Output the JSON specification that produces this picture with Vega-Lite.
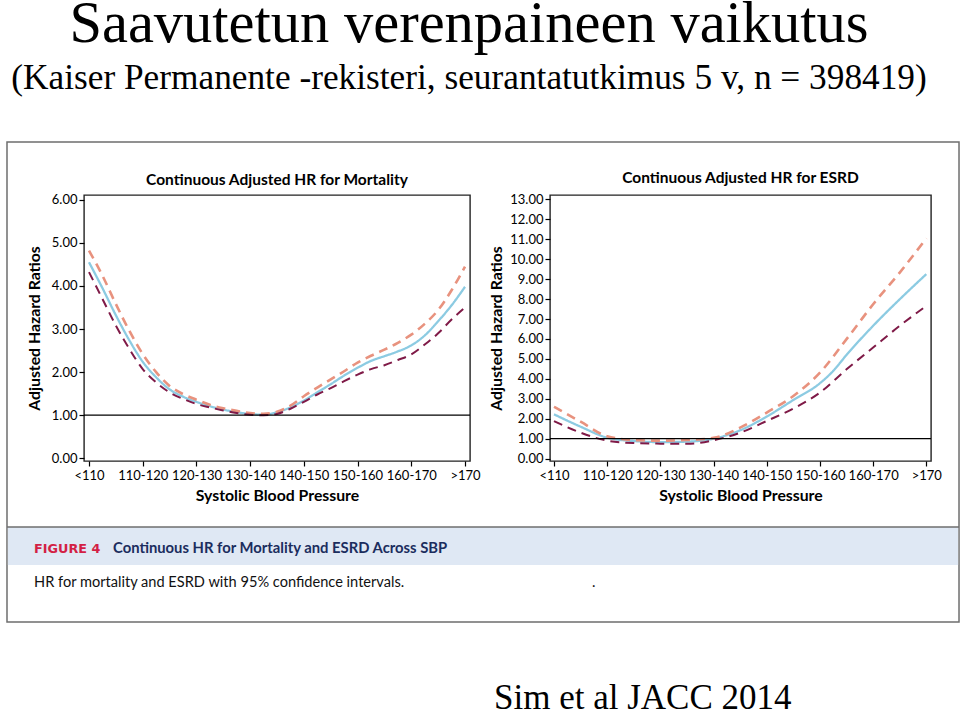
{
  "$schema": "https://vega.github.io/schema/vega-lite/v6.json",
  "background": "white",
  "padding": {"left": 5, "top": -6, "right": 0, "bottom": 0},
  "datasets": {
    "mortality": [
      {"sbp":105,"series":"HR","hr":4.55},{"sbp":107.5,"series":"HR","hr":3.95},{"sbp":110,"series":"HR","hr":3.32},{"sbp":112.5,"series":"HR","hr":2.74},{"sbp":115,"series":"HR","hr":2.24},{"sbp":117.5,"series":"HR","hr":1.88},{"sbp":120,"series":"HR","hr":1.6},{"sbp":122.5,"series":"HR","hr":1.43},{"sbp":125,"series":"HR","hr":1.31},{"sbp":127.5,"series":"HR","hr":1.21},{"sbp":130,"series":"HR","hr":1.13},{"sbp":132.5,"series":"HR","hr":1.07},{"sbp":135,"series":"HR","hr":1.03},{"sbp":137.5,"series":"HR","hr":1.01},{"sbp":140,"series":"HR","hr":1.07},{"sbp":142.5,"series":"HR","hr":1.18},{"sbp":145,"series":"HR","hr":1.34},{"sbp":147.5,"series":"HR","hr":1.53},{"sbp":150,"series":"HR","hr":1.72},{"sbp":152.5,"series":"HR","hr":1.92},{"sbp":155,"series":"HR","hr":2.1},{"sbp":157.5,"series":"HR","hr":2.26},{"sbp":160,"series":"HR","hr":2.37},{"sbp":162.5,"series":"HR","hr":2.48},{"sbp":165,"series":"HR","hr":2.62},{"sbp":167.5,"series":"HR","hr":2.85},{"sbp":170,"series":"HR","hr":3.18},{"sbp":172.5,"series":"HR","hr":3.55},{"sbp":175,"series":"HR","hr":3.98},
      {"sbp":105,"series":"Upper 95% CI","hr":4.82},{"sbp":107.5,"series":"Upper 95% CI","hr":4.24},{"sbp":110,"series":"Upper 95% CI","hr":3.58},{"sbp":112.5,"series":"Upper 95% CI","hr":2.96},{"sbp":115,"series":"Upper 95% CI","hr":2.42},{"sbp":117.5,"series":"Upper 95% CI","hr":2.0},{"sbp":120,"series":"Upper 95% CI","hr":1.68},{"sbp":122.5,"series":"Upper 95% CI","hr":1.49},{"sbp":125,"series":"Upper 95% CI","hr":1.36},{"sbp":127.5,"series":"Upper 95% CI","hr":1.24},{"sbp":130,"series":"Upper 95% CI","hr":1.16},{"sbp":132.5,"series":"Upper 95% CI","hr":1.1},{"sbp":135,"series":"Upper 95% CI","hr":1.05},{"sbp":137.5,"series":"Upper 95% CI","hr":1.03},{"sbp":140,"series":"Upper 95% CI","hr":1.08},{"sbp":142.5,"series":"Upper 95% CI","hr":1.22},{"sbp":145,"series":"Upper 95% CI","hr":1.44},{"sbp":147.5,"series":"Upper 95% CI","hr":1.64},{"sbp":150,"series":"Upper 95% CI","hr":1.83},{"sbp":152.5,"series":"Upper 95% CI","hr":2.02},{"sbp":155,"series":"Upper 95% CI","hr":2.22},{"sbp":157.5,"series":"Upper 95% CI","hr":2.38},{"sbp":160,"series":"Upper 95% CI","hr":2.52},{"sbp":162.5,"series":"Upper 95% CI","hr":2.68},{"sbp":165,"series":"Upper 95% CI","hr":2.87},{"sbp":167.5,"series":"Upper 95% CI","hr":3.12},{"sbp":170,"series":"Upper 95% CI","hr":3.44},{"sbp":172.5,"series":"Upper 95% CI","hr":3.9},{"sbp":175,"series":"Upper 95% CI","hr":4.45},
      {"sbp":105,"series":"Lower 95% CI","hr":4.32},{"sbp":107.5,"series":"Lower 95% CI","hr":3.7},{"sbp":110,"series":"Lower 95% CI","hr":3.08},{"sbp":112.5,"series":"Lower 95% CI","hr":2.54},{"sbp":115,"series":"Lower 95% CI","hr":2.07},{"sbp":117.5,"series":"Lower 95% CI","hr":1.76},{"sbp":120,"series":"Lower 95% CI","hr":1.53},{"sbp":122.5,"series":"Lower 95% CI","hr":1.38},{"sbp":125,"series":"Lower 95% CI","hr":1.26},{"sbp":127.5,"series":"Lower 95% CI","hr":1.18},{"sbp":130,"series":"Lower 95% CI","hr":1.11},{"sbp":132.5,"series":"Lower 95% CI","hr":1.05},{"sbp":135,"series":"Lower 95% CI","hr":1.01},{"sbp":137.5,"series":"Lower 95% CI","hr":1.0},{"sbp":140,"series":"Lower 95% CI","hr":1.03},{"sbp":142.5,"series":"Lower 95% CI","hr":1.15},{"sbp":145,"series":"Lower 95% CI","hr":1.31},{"sbp":147.5,"series":"Lower 95% CI","hr":1.48},{"sbp":150,"series":"Lower 95% CI","hr":1.63},{"sbp":152.5,"series":"Lower 95% CI","hr":1.79},{"sbp":155,"series":"Lower 95% CI","hr":1.94},{"sbp":157.5,"series":"Lower 95% CI","hr":2.07},{"sbp":160,"series":"Lower 95% CI","hr":2.16},{"sbp":162.5,"series":"Lower 95% CI","hr":2.28},{"sbp":165,"series":"Lower 95% CI","hr":2.41},{"sbp":167.5,"series":"Lower 95% CI","hr":2.64},{"sbp":170,"series":"Lower 95% CI","hr":2.9},{"sbp":172.5,"series":"Lower 95% CI","hr":3.22},{"sbp":175,"series":"Lower 95% CI","hr":3.5}
    ],
    "esrd": [
      {"sbp":105,"series":"HR","hr":2.22},{"sbp":110,"series":"HR","hr":1.6},{"sbp":115,"series":"HR","hr":1.05},{"sbp":120,"series":"HR","hr":0.88},{"sbp":125,"series":"HR","hr":0.83},{"sbp":130,"series":"HR","hr":0.85},{"sbp":135,"series":"HR","hr":1.0},{"sbp":140,"series":"HR","hr":1.42},{"sbp":145,"series":"HR","hr":2.11},{"sbp":150,"series":"HR","hr":2.94},{"sbp":155,"series":"HR","hr":3.78},{"sbp":157.5,"series":"HR","hr":4.4},{"sbp":160,"series":"HR","hr":5.2},{"sbp":165,"series":"HR","hr":6.66},{"sbp":170,"series":"HR","hr":7.99},{"sbp":175,"series":"HR","hr":9.25},
      {"sbp":105,"series":"Upper 95% CI","hr":2.6},{"sbp":110,"series":"Upper 95% CI","hr":1.85},{"sbp":115,"series":"Upper 95% CI","hr":1.12},{"sbp":120,"series":"Upper 95% CI","hr":0.93},{"sbp":125,"series":"Upper 95% CI","hr":0.9},{"sbp":130,"series":"Upper 95% CI","hr":0.93},{"sbp":135,"series":"Upper 95% CI","hr":1.04},{"sbp":140,"series":"Upper 95% CI","hr":1.55},{"sbp":145,"series":"Upper 95% CI","hr":2.31},{"sbp":150,"series":"Upper 95% CI","hr":3.14},{"sbp":155,"series":"Upper 95% CI","hr":4.31},{"sbp":160,"series":"Upper 95% CI","hr":5.99},{"sbp":165,"series":"Upper 95% CI","hr":7.74},{"sbp":170,"series":"Upper 95% CI","hr":9.33},{"sbp":175,"series":"Upper 95% CI","hr":11.05},
      {"sbp":105,"series":"Lower 95% CI","hr":1.88},{"sbp":110,"series":"Lower 95% CI","hr":1.3},{"sbp":115,"series":"Lower 95% CI","hr":0.9},{"sbp":120,"series":"Lower 95% CI","hr":0.78},{"sbp":125,"series":"Lower 95% CI","hr":0.75},{"sbp":130,"series":"Lower 95% CI","hr":0.74},{"sbp":135,"series":"Lower 95% CI","hr":0.92},{"sbp":140,"series":"Lower 95% CI","hr":1.3},{"sbp":145,"series":"Lower 95% CI","hr":1.89},{"sbp":150,"series":"Lower 95% CI","hr":2.51},{"sbp":155,"series":"Lower 95% CI","hr":3.31},{"sbp":160,"series":"Lower 95% CI","hr":4.48},{"sbp":165,"series":"Lower 95% CI","hr":5.57},{"sbp":170,"series":"Lower 95% CI","hr":6.66},{"sbp":175,"series":"Lower 95% CI","hr":7.66}
    ]
  },
  "title": {
    "text": "Saavutetun verenpaineen vaikutus",
    "subtitle": "(Kaiser Permanente -rekisteri, seurantatutkimus 5 v, n = 398419)",
    "font": "Liberation Serif", "fontSize": 58.5, "fontWeight": "normal", "color": "black",
    "subtitleFont": "Liberation Serif", "subtitleFontSize": 35.3, "subtitleColor": "black",
    "subtitlePadding": 7, "anchor": "middle", "frame": "bounds", "dx": -14, "offset": 43
  },
  "bounds": "flush",
  "spacing": 80,
  "hconcat": [
    {
      "width": 386, "height": 266,
      "layer": [
        {"data": {"values": [{"ref": 0}]},
         "mark": {"type": "rect", "fill": "transparent", "stroke": "#6e6e6e", "strokeWidth": 1.5, "clip": false},
         "encoding": {"x": {"datum": 89.735}, "x2": {"datum": 266.967}, "y": {"datum": 7.34}, "y2": {"datum": -3.799}}},
        {"data": {"values": [{"ref": 0}]},
         "mark": {"type": "rect", "fill": "#dfe8f4", "clip": false},
         "encoding": {"x": {"datum": 89.9}, "x2": {"datum": 266.8}, "y": {"datum": -1.595}, "y2": {"datum": -2.477}}},
        {"data": {"values": [{"ref": 0}]},
         "mark": {"type": "rule", "stroke": "#6e6e6e", "strokeWidth": 1.5, "clip": false},
         "encoding": {"x": {"datum": 89.735}, "x2": {"datum": 266.967}, "y": {"datum": -1.595}}},
        {"data": {"values": [{"ref": 0}]},
         "mark": {"type": "text", "text": "Continuous Adjusted HR for Mortality", "font": "Lato", "fontWeight": "bold", "fontSize": 15.5, "fill": "black", "align": "center", "baseline": "alphabetic", "clip": false},
         "encoding": {"x": {"datum": 140}, "y": {"datum": 6.342}}},
        {"data": {"values": [{"ref": 0}]},
         "mark": {"type": "text", "text": "FIGURE 4", "font": "DejaVu Sans", "fontWeight": "bold", "fontSize": 12.8, "fill": "#d31f45", "align": "left", "baseline": "alphabetic", "clip": false},
         "encoding": {"x": {"datum": 94.76}, "y": {"datum": -2.198}}},
        {"data": {"values": [{"ref": 0}]},
         "mark": {"type": "text", "text": "Continuous HR for Mortality and ESRD Across SBP", "font": "Lato", "fontWeight": "bold", "fontSize": 14.8, "fill": "#1b2d5e", "align": "left", "baseline": "alphabetic", "clip": false},
         "encoding": {"x": {"datum": 109.47}, "y": {"datum": -2.198}}},
        {"data": {"values": [{"ref": 0}]},
         "mark": {"type": "text", "text": "HR for mortality and ESRD with 95% confidence intervals.", "font": "Lato", "fontSize": 14.6, "fill": "#111111", "align": "left", "baseline": "alphabetic", "clip": false},
         "encoding": {"x": {"datum": 94.76}, "y": {"datum": -2.987}}},
        {"data": {"values": [{"ref": 0}]},
         "mark": {"type": "text", "text": ".", "font": "Lato", "fontSize": 14.6, "fill": "#111111", "align": "left", "baseline": "alphabetic", "clip": false},
         "encoding": {"x": {"datum": 198.64}, "y": {"datum": -2.987}}},
        {"data": {"values": [{"ref": 0}]},
         "mark": {"type": "text", "text": "Sim et al JACC 2014", "font": "Liberation Serif", "fontSize": 35, "fill": "black", "align": "left", "baseline": "alphabetic", "clip": false},
         "encoding": {"x": {"datum": 180.4}, "y": {"datum": -5.819}}},
        {"data": {"name": "mortality"},
         "mark": {"type": "line", "interpolate": "monotone"},
         "encoding": {
           "x": {"field": "sbp", "type": "quantitative",
                 "scale": {"domain": [104.07, 175.93], "nice": false, "zero": false},
                 "axis": {"values": [105,115,125,135,145,155,165,175], "labelExpr": "datum.value == 105 ? '<110' : datum.value == 175 ? '>170' : (datum.value - 5) + '-' + (datum.value + 5)", "title": "Systolic Blood Pressure"}},
           "y": {"field": "hr", "type": "quantitative",
                 "scale": {"domain": [-0.063, 6.11], "nice": false, "zero": false},
                 "axis": {"values": [0,1,2,3,4,5,6], "format": ".2f", "title": "Adjusted Hazard Ratios", "titlePadding": 9}},
           "color": {"field": "series", "type": "nominal", "scale": {"domain": ["Upper 95% CI", "HR", "Lower 95% CI"], "range": ["#e8927e", "#8ccbe2", "#7f1a47"]}, "legend": null},
           "strokeDash": {"field": "series", "type": "nominal", "scale": {"domain": ["Upper 95% CI", "HR", "Lower 95% CI"], "range": [[9, 6], [1, 0], [9, 6]]}, "legend": null},
           "strokeWidth": {"field": "series", "type": "nominal", "scale": {"domain": ["Upper 95% CI", "HR", "Lower 95% CI"], "range": [2.6, 2, 3]}, "legend": null}
         }},
        {"data": {"values": [{"ref": 1}]},
         "mark": {"type": "rule", "color": "black", "strokeWidth": 1.2},
         "encoding": {"y": {"field": "ref", "type": "quantitative", "axis": {"values": [0,1,2,3,4,5,6], "format": ".2f", "title": "Adjusted Hazard Ratios", "titlePadding": 9}}}}
      ]
    },
    {
      "width": 381, "height": 266,
      "title": {"text": "Continuous Adjusted HR for ESRD"},
      "layer": [
        {"data": {"name": "esrd"},
         "mark": {"type": "line", "interpolate": "monotone"},
         "encoding": {
           "x": {"field": "sbp", "type": "quantitative",
                 "scale": {"domain": [104.25, 175.88], "nice": false, "zero": false},
                 "axis": {"values": [105,115,125,135,145,155,165,175], "labelExpr": "datum.value == 105 ? '<110' : datum.value == 175 ? '>170' : (datum.value - 5) + '-' + (datum.value + 5)", "title": "Systolic Blood Pressure"}},
           "y": {"field": "hr", "type": "quantitative",
                 "scale": {"domain": [-0.12, 13.22], "nice": false, "zero": false},
                 "axis": {"values": [0,1,2,3,4,5,6,7,8,9,10,11,12,13], "format": ".2f", "title": "Adjusted Hazard Ratios", "titlePadding": 5}},
           "color": {"field": "series", "type": "nominal", "scale": {"domain": ["Upper 95% CI", "HR", "Lower 95% CI"], "range": ["#e8927e", "#8ccbe2", "#7f1a47"]}, "legend": null},
           "strokeDash": {"field": "series", "type": "nominal", "scale": {"domain": ["Upper 95% CI", "HR", "Lower 95% CI"], "range": [[9, 6], [1, 0], [9, 6]]}, "legend": null},
           "strokeWidth": {"field": "series", "type": "nominal", "scale": {"domain": ["Upper 95% CI", "HR", "Lower 95% CI"], "range": [2.6, 2, 3]}, "legend": null}
         }},
        {"data": {"values": [{"ref": 1}]},
         "mark": {"type": "rule", "color": "black", "strokeWidth": 1.2},
         "encoding": {"y": {"field": "ref", "type": "quantitative", "axis": {"values": [0,1,2,3,4,5,6,7,8,9,10,11,12,13], "format": ".2f", "title": "Adjusted Hazard Ratios", "titlePadding": 5}}}}
      ]
    }
  ],
  "config": {
    "font": "Lato",
    "view": {"stroke": "#222222", "strokeWidth": 1.4},
    "title": {"font": "Lato", "fontSize": 15.5, "fontWeight": "bold", "color": "black", "anchor": "middle", "offset": 7, "frame": "group"},
    "axis": {
      "grid": false, "domain": false, "tickColor": "black", "tickSize": 5, "tickWidth": 1.2,
      "labelFont": "Lato", "labelFontSize": 13, "labelColor": "black", "labelPadding": 2,
      "labelOverlap": false, "labelFlush": false,
      "titleFont": "Lato", "titleFontSize": 15.8, "titleFontWeight": "bold", "titleColor": "black"
    },
    "axisX": {"labelPadding": 3, "titlePadding": 6}
  }
}
